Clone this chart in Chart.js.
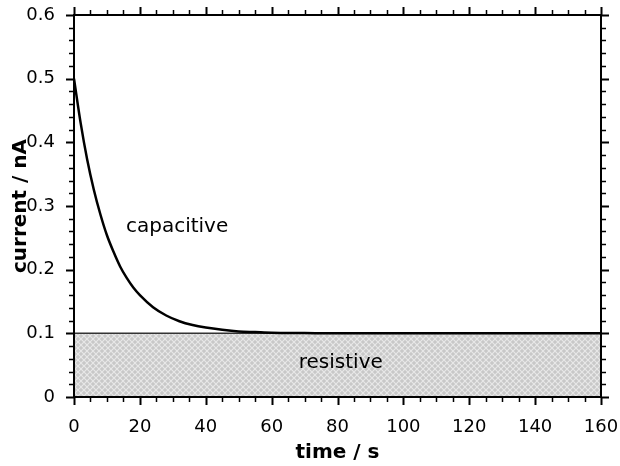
<!DOCTYPE html>
<html>
<head>
<meta charset="utf-8">
<script src="https://cdn.jsdelivr.net/npm/chart.js@4.4.1/dist/chart.umd.min.js"></script>
<style>
  html, body { margin: 0; padding: 0; background: #fff; }
</style>
</head>
<body>
<canvas id="chart" width="620" height="466"></canvas>
<script>
// time (s) and current (nA)
const time = [0, 2, 4, 6, 8, 10, 12, 14, 16, 18, 20, 24, 28, 32, 36, 40, 45, 50, 55, 60, 70, 80, 100, 120, 140, 160]
const current = [0.500, 0.431, 0.373, 0.326, 0.287, 0.254, 0.228, 0.205, 0.187, 0.172, 0.160, 0.141, 0.128,
  0.119, 0.113, 0.109, 0.1055, 0.103, 0.102, 0.101, 0.1005, 0.100, 0.100, 0.100, 0.100, 0.100]

// constant resistive current
const resistiveTime = [0, 160]
const resistiveCurrent = [0.1, 0.1]

// annotations: [text, time, current]
const notes = [
  ["capacitive", 31.3, 0.259],
  ["resistive", 81, 0.046],
]

const xMajor = 20, xMinor = 5
const yMajor = 0.1, yMinor = 0.02

const FONT = "'DejaVu Sans', Verdana, sans-serif"

// light gray cross-hatch for the resistive area
const makeHatch = () => {
  const pc = document.createElement("canvas")
  pc.width = 6
  pc.height = 6
  const p = pc.getContext("2d")
  p.fillStyle = "#c8c8c8"
  p.fillRect(0, 0, 6, 6)
  p.strokeStyle = "#e8e8e8"
  p.lineWidth = 1.2
  p.beginPath()
  p.moveTo(0, 0); p.lineTo(6, 6)
  p.moveTo(6, 0); p.lineTo(0, 6)
  p.stroke()
  return document.getElementById("chart").getContext("2d").createPattern(pc, "repeat")
}

// frame, ticks on all four sides (outward) and text annotations
const framePlugin = {
  id: "frame",
  afterDatasetsDraw(chart) {
    const { ctx, scales: { x, y } } = chart
    ctx.save()
    ctx.fillStyle = "#000"
    ctx.font = `20px ${FONT}`
    ctx.textAlign = "center"
    ctx.textBaseline = "alphabetic"
    notes.forEach(([txt, t, v]) => {
      ctx.fillText(txt, x.getPixelForValue(t), y.getPixelForValue(v))
    })
    ctx.restore()
  },
  afterDraw(chart) {
    const { ctx, chartArea: a, scales: { x, y } } = chart
    ctx.save()
    ctx.strokeStyle = "#000"
    ctx.lineCap = "butt"
    for (let i = 0; i <= Math.round((x.max - x.min) / xMinor); i++) {
      const v = x.min + i * xMinor
      const px = Math.round(x.getPixelForValue(v)) + 0.5
      const major = v % xMajor === 0
      const len = major ? 8 : 5
      ctx.lineWidth = major ? 2 : 1.5
      ctx.beginPath()
      ctx.moveTo(px, a.bottom); ctx.lineTo(px, a.bottom + len)
      ctx.moveTo(px, a.top); ctx.lineTo(px, a.top - len)
      ctx.stroke()
    }
    for (let i = 0; i <= Math.round((y.max - y.min) / yMinor); i++) {
      const py = Math.round(y.getPixelForValue(y.min + i * yMinor)) + 0.5
      const major = i % Math.round(yMajor / yMinor) === 0
      const len = major ? 8 : 5
      ctx.lineWidth = major ? 2 : 1.5
      ctx.beginPath()
      ctx.moveTo(a.left, py); ctx.lineTo(a.left - len, py)
      ctx.moveTo(a.right, py); ctx.lineTo(a.right + len, py)
      ctx.stroke()
    }
    ctx.lineWidth = 2
    ctx.strokeRect(a.left, a.top, a.right - a.left, a.bottom - a.top)
    ctx.restore()
  },
}

new Chart(document.getElementById("chart"), {
  type: "line",
  data: {
    datasets: [
      {
        label: "capacitive",
        data: time.map((t, i) => ({ x: t, y: current[i] })),
        borderColor: "#000",
        borderWidth: 2.5,
        pointRadius: 0,
        cubicInterpolationMode: "monotone",
        fill: false,
      },
      {
        label: "resistive",
        data: resistiveTime.map((t, i) => ({ x: t, y: resistiveCurrent[i] })),
        borderColor: "#333",
        borderWidth: 1.5,
        pointRadius: 0,
        backgroundColor: makeHatch(),
        fill: "origin",
      },
    ],
  },
  options: {
    responsive: false,
    animation: false,
    layout: { padding: { left: 0, top: 15, right: 19, bottom: 0 } },
    plugins: { legend: { display: false }, tooltip: { enabled: false } },
    scales: {
      x: {
        type: "linear",
        min: 0,
        max: 160,
        grid: { display: false },
        border: { display: false },
        afterFit: (s) => {
          s.height = 69
          s.paddingLeft = 0
          s.paddingRight = 0
        },
        ticks: {
          stepSize: xMajor,
          autoSkip: false,
          maxRotation: 0,
          padding: 12,
          color: "#000",
          font: { family: FONT, size: 18 },
        },
        title: {
          display: true,
          text: "time / s",
          color: "#000",
          font: { family: FONT, size: 20, weight: "bold" },
          padding: { top: 0, bottom: 1 },
        },
      },
      y: {
        type: "linear",
        min: 0,
        max: 0.6,
        grid: { display: false },
        border: { display: false },
        afterFit: (s) => {
          s.width = 74
          s.paddingTop = 0
          s.paddingBottom = 0
        },
        ticks: {
          stepSize: yMajor,
          autoSkip: false,
          padding: 11,
          color: "#000",
          font: { family: FONT, size: 18 },
          callback: (v) => (v === 0 ? "0" : v.toFixed(1)),
        },
        title: {
          display: true,
          text: "current / nA",
          color: "#000",
          font: { family: FONT, size: 20, weight: "bold" },
          padding: { top: 9, bottom: 0 },
        },
      },
    },
  },
  plugins: [framePlugin],
})
</script>
</body>
</html>
